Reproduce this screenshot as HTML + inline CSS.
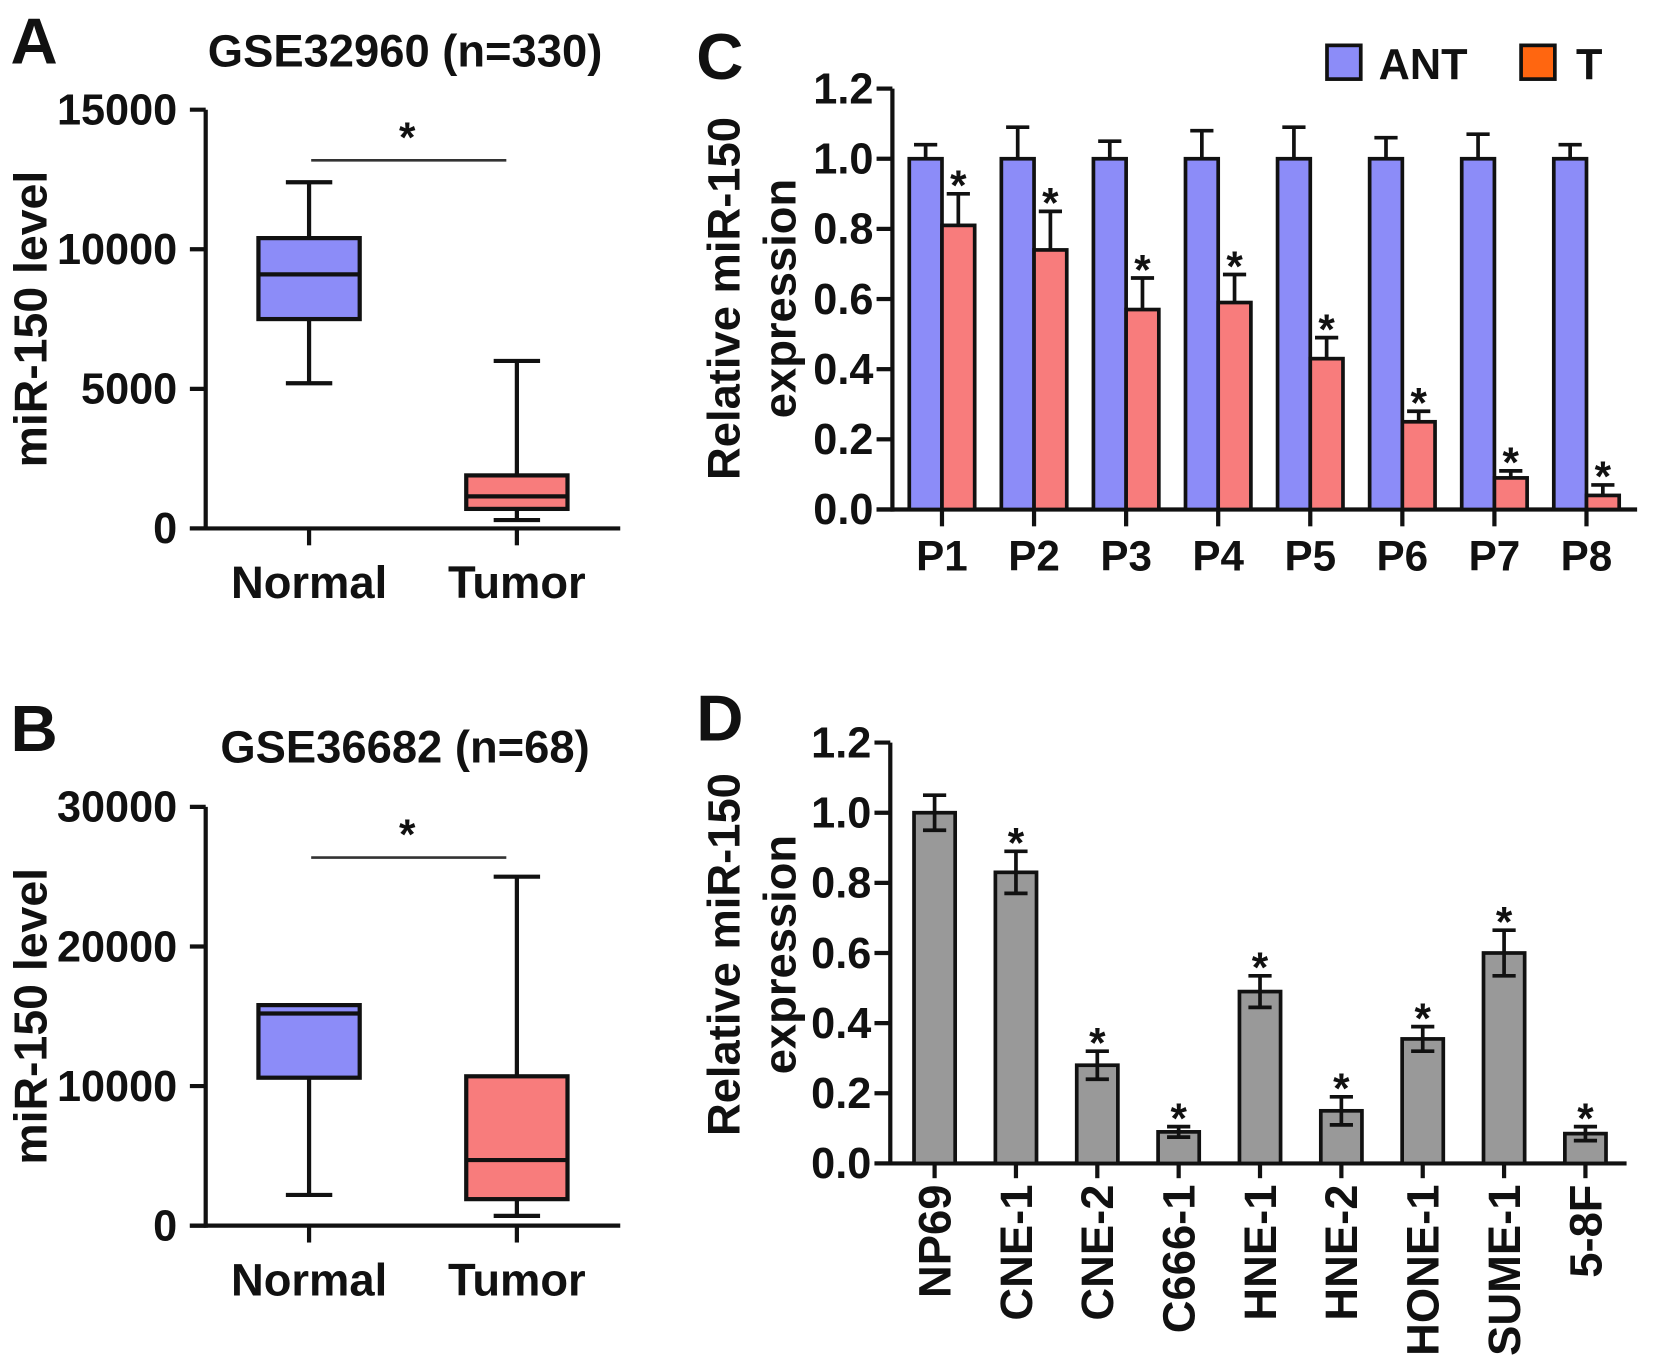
<!DOCTYPE html>
<html><head><meta charset="utf-8"><style>
html,body{margin:0;padding:0;background:#fff;}
svg{display:block;font-family:"Liberation Sans",Arial,sans-serif;font-weight:bold;}
</style></head><body>
<svg id="fig" width="1654" height="1367" viewBox="0 0 1568 1296" preserveAspectRatio="none" xmlns="http://www.w3.org/2000/svg"></svg>
<script>
// Panel A data
const boxCatsA = ["Normal","Tumor"];
const boxStatsA = [[5200,7500,9100,10400,12400],[300,700,1150,1900,6000]];
const ticksA = [0,5000,10000,15000];
// Panel B data
const boxCatsB = ["Normal","Tumor"];
const boxStatsB = [[2200,10600,15200,15800,15800],[700,1900,4700,10700,25000]];
const ticksB = [0,10000,20000,30000];
// Panel C data
const catsC = ["P1","P2","P3","P4","P5","P6","P7","P8"];
const antC = [1,1,1,1,1,1,1,1];
const antErrC = [0.04,0.09,0.05,0.08,0.09,0.06,0.07,0.04];
const tC = [0.81,0.74,0.57,0.59,0.43,0.25,0.09,0.04];
const tErrC = [0.09,0.11,0.09,0.08,0.06,0.03,0.02,0.03];
const ticksC = [0,0.2,0.4,0.6,0.8,1.0,1.2];
// Panel D data
const catsD = ["NP69","CNE-1","CNE-2","C666-1","HNE-1","HNE-2","HONE-1","SUME-1","5-8F"];
const valsD = [1.0,0.83,0.28,0.09,0.49,0.15,0.355,0.60,0.085];
const errD = [0.05,0.06,0.04,0.015,0.045,0.04,0.035,0.065,0.02];
const starD = [false,true,true,true,true,true,true,true,true];
const ticksD = [0,0.2,0.4,0.6,0.8,1.0,1.2];

const NS="http://www.w3.org/2000/svg";
const svg=document.getElementById('fig');
function el(tag,attrs,parent){const e=document.createElementNS(NS,tag);for(const k in attrs)e.setAttribute(k,attrs[k]);(parent||svg).appendChild(e);return e;}
function txt(x,y,s,size,anchor,parent,extra){const t=el('text',Object.assign({x:x,y:y,'font-size':size,'text-anchor':anchor||'middle',fill:'#111'},extra||{}),parent);t.textContent=s;return t;}
function line(x1,y1,x2,y2,w,parent,col){return el('line',{x1,y1,x2,y2,stroke:col||'#111','stroke-width':w||4},parent);}
const STAR=40;

function boxPanel(letter,ly,ty,title,cats,stats,ticks,ymax,y0,y1,idp){
  const g=el('g',{});
  
  
  const L=txt(10,ly,letter,62,'start',g);
  
  const T=txt(384,ty,title,43,'middle',g);
  
  const ax=195, y=v=>y0-(v/ymax)*(y0-y1);
  const xs=[293,490];
  line(ax,y1,ax,y0+2,4,g); line(180,y0,588,y0,4,g);
  ticks.forEach(t=>{line(180,y(t),ax,y(t),4,g);const tl=txt(168,y(t)+14,String(t),41,'end',g);});
  const yt=txt(0,0,'miR-150  level',44,'middle',g,{transform:`translate(44,${(y0+y1)/2}) rotate(-90)`});
  
  const fills=['#8c8cf8','#f87c7c'];
  cats.forEach((c,i)=>{
    const s=stats[i],x=xs[i];
    line(x,y0,x,y0+16,4,g);
    const xl=txt(x,y0+66,c,43,'middle',g);
    line(x,y(s[0]),x,y(s[1]),4,g); line(x,y(s[3]),x,y(s[4]),4,g);
    line(x-22,y(s[0]),x+22,y(s[0]),4,g); line(x-22,y(s[4]),x+22,y(s[4]),4,g);
    const b=el('rect',{x:x-48,y:y(s[3]),width:96,height:y(s[1])-y(s[3]),fill:fills[i],stroke:'#111','stroke-width':4},g);
    
    line(x-48,y(s[2]),x+48,y(s[2]),4,g);
  });
  return {g,y};
}
const A=boxPanel('A',60,63,'GSE32960 (n=330)',boxCatsA,boxStatsA,ticksA,15000,501,104,'a');
line(295,152,480,152,2.5,A.g,'#333'); txt(386,144,'*',STAR,'middle',A.g);
const B=boxPanel('B',712,723,'GSE36682 (n=68)',boxCatsB,boxStatsB,ticksB,30000,1162,765,'b');
line(295,813,480,813,2.5,B.g,'#333'); txt(386,805,'*',STAR,'middle',B.g);

// Panel C
(function(){
  const g=el('g',{});
  
  
  const ax=846,y0=483,y1=84,ymax=1.2,y=v=>y0-(v/ymax)*(y0-y1);
  const x0=893,dx=(1504-893)/7,bw=31;
  const L=txt(660,75,'C',62,'start',g);
  line(ax,y1,ax,y0+2,4,g); line(831,y0,1552,y0,4,g);
  ticksC.forEach(t=>{line(831,y(t),ax,y(t),4,g);const tl=txt(828,y(t)+14,t.toFixed(1),41,'end',g);});
  const yt=el('g',{transform:'translate(701,283) rotate(-90)'},g);
  const t1=txt(0,0,'Relative miR-150',43,'middle',yt);
  txt(0,53,'expression',43,'middle',yt);
  catsC.forEach((c,i)=>{
    const x=x0+i*dx;
    line(x,y0,x,y0+16,4,g);
    const xl=txt(x,y0+58,c,40,'middle',g);
    const ab=el('rect',{x:x-bw,y:y(antC[i]),width:bw,height:y0-y(antC[i]),fill:'#8c8cf8',stroke:'#111','stroke-width':3.5},g);
    
    line(x-bw/2,y(antC[i]),x-bw/2,y(antC[i]+antErrC[i]),3.5,g);line(x-bw/2-11,y(antC[i]+antErrC[i]),x-bw/2+11,y(antC[i]+antErrC[i]),3.5,g);
    const tb=el('rect',{x:x,y:y(tC[i]),width:bw,height:y0-y(tC[i]),fill:'#f87c7c',stroke:'#111','stroke-width':3.5},g);
    
    const et=y(tC[i]+tErrC[i]);
    line(x+bw/2,y(tC[i]),x+bw/2,et,3.5,g);line(x+bw/2-11,et,x+bw/2+11,et,3.5,g);
    txt(x+bw/2,et+6,'*',STAR,'middle',g);
  });
  const lg=el('g',{},g);
  el('rect',{x:1258,y:43,width:32,height:32,fill:'#8c8cf8',stroke:'#111','stroke-width':3.5},lg);
  txt(1307,75,'ANT',41,'start',lg);
  el('rect',{x:1442,y:43,width:32,height:32,fill:'#ff6610',stroke:'#111','stroke-width':3.5},lg);
  txt(1494,75,'T',41,'start',lg);
})();

// Panel D
(function(){
  const g=el('g',{});
  
  
  const ax=844,y0=1103,y1=704,ymax=1.2,y=v=>y0-(v/ymax)*(y0-y1);
  const x0=886,dx=(1503-886)/8,bw=39;
  const L=txt(660,702,'D',62,'start',g);
  line(ax,y1,ax,y0+2,4,g); line(829,y0,1542,y0,4,g);
  ticksD.forEach(t=>{line(829,y(t),ax,y(t),4,g);const tl=txt(826,y(t)+14,t.toFixed(1),41,'end',g);});
  const yt=el('g',{transform:'translate(701,905) rotate(-90)'},g);
  const t1=txt(0,0,'Relative miR-150',43,'middle',yt);
  txt(0,53,'expression',43,'middle',yt);
  catsD.forEach((c,i)=>{
    const x=x0+i*dx;
    line(x,y0,x,y0+14,4,g);
    const xl=txt(0,0,c,43,'end',g,{transform:`translate(${x+15},${y0+20}) rotate(-90)`});
    
    const b=el('rect',{x:x-bw/2,y:y(valsD[i]),width:bw,height:y0-y(valsD[i]),fill:'#999',stroke:'#111','stroke-width':3.5},g);
    
    const hi=y(valsD[i]+errD[i]),lo=y(valsD[i]-errD[i]);
    line(x,hi,x,lo,3.5,g);line(x-11,hi,x+11,hi,3.5,g);line(x-11,lo,x+11,lo,3.5,g);
    if(starD[i]) txt(x,hi+6,'*',STAR,'middle',g);
  });
})();
</script>
</body></html>
